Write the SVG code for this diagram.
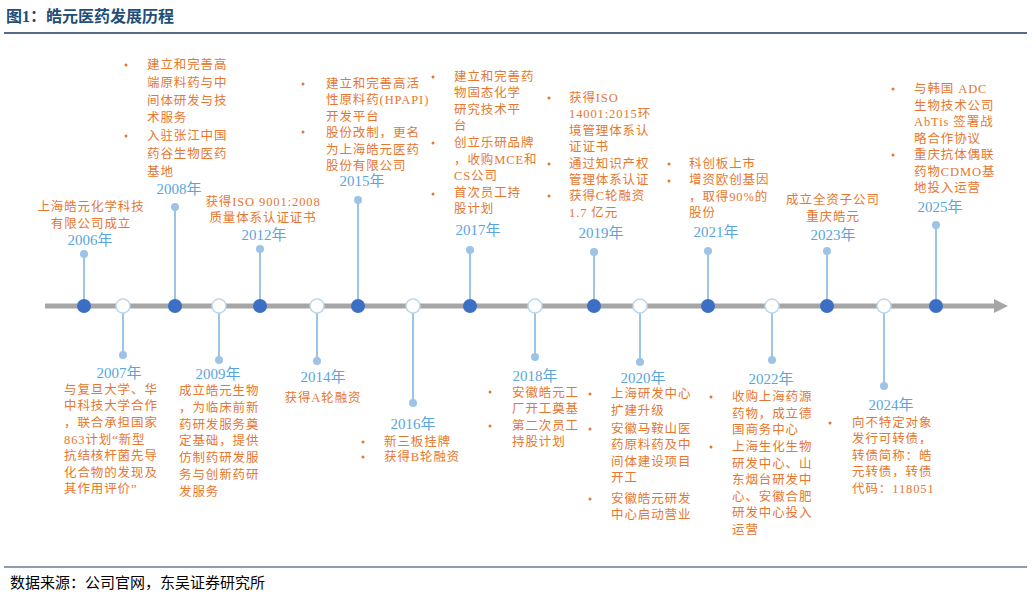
<svg xmlns="http://www.w3.org/2000/svg" width="1032" height="599" viewBox="0 0 1032 599">
<style>
.t{font-family:"Liberation Serif","Noto Sans CJK SC",serif;font-size:12.5px;fill:#E7772F;letter-spacing:0.9px}
.c{text-anchor:middle}
.y{font-family:"Liberation Serif","Noto Sans CJK SC",serif;font-size:15px;fill:#5AA5DD;text-anchor:middle}
.stem{stroke:#9DC3E6;stroke-width:2}
.sd{fill:#9DC3E6}
.f{fill:#3A6FC4}
.h{fill:#fff;stroke:#BDD7EE;stroke-width:1.5}
.b{fill:#E7772F}
</style>
<rect width="1032" height="599" fill="#fff"/>
<text x="6" y="22" font-family="'Liberation Serif','Noto Sans CJK SC',serif" font-size="16" font-weight="bold" fill="#1F4E79">图1：皓元医药发展历程</text>
<line x1="4" y1="33" x2="1027" y2="33" stroke="#1F3864" stroke-width="1.5"/>
<line x1="4" y1="567" x2="1027" y2="567" stroke="#1F3864" stroke-width="1"/>
<text x="10" y="588" font-family="'Liberation Serif','Noto Sans CJK SC',serif" font-size="15" fill="#000">数据来源：公司官网，东吴证券研究所</text>
<g id="connectors">
<line x1="45" y1="306" x2="996" y2="306" stroke="#A6A6A6" stroke-width="5"/>
<polygon points="994,299 1008,306 994,313" fill="#A6A6A6"/>
<line class="stem" x1="84" y1="254" x2="84" y2="306"/>
<line class="stem" x1="175" y1="207" x2="175" y2="306"/>
<line class="stem" x1="260" y1="249" x2="260" y2="306"/>
<line class="stem" x1="358" y1="200" x2="358" y2="306"/>
<line class="stem" x1="470" y1="250" x2="470" y2="306"/>
<line class="stem" x1="594" y1="252" x2="594" y2="306"/>
<line class="stem" x1="708" y1="251" x2="708" y2="306"/>
<line class="stem" x1="827" y1="251" x2="827" y2="306"/>
<line class="stem" x1="936" y1="225" x2="936" y2="306"/>
<line class="stem" x1="123" y1="306" x2="123" y2="355"/>
<line class="stem" x1="219" y1="306" x2="219" y2="360"/>
<line class="stem" x1="317" y1="306" x2="317" y2="361"/>
<line class="stem" x1="413" y1="306" x2="413" y2="403"/>
<line class="stem" x1="535" y1="306" x2="535" y2="357"/>
<line class="stem" x1="640" y1="306" x2="640" y2="362"/>
<line class="stem" x1="772" y1="306" x2="772" y2="360"/>
<line class="stem" x1="884" y1="306" x2="884" y2="386"/>
</g>
<g id="n2006"><circle class="sd" cx="84" cy="254" r="4"/><circle class="f" cx="84" cy="306" r="7"/>
<text class="t c" x="91" y="211">上海皓元化学科技</text><text class="t c" x="91" y="228">有限公司成立</text><text class="y" x="90" y="245">2006年</text></g>
<g id="n2007"><circle class="h" cx="123" cy="306" r="7"/><circle class="sd" cx="123" cy="355" r="4"/>
<text class="y" x="119" y="378">2007年</text>
<text class="t" x="64" y="394">与复旦大学、华</text><text class="t" x="64" y="410">中科技大学合作</text><text class="t" x="64" y="427">，联合承担国家</text><text class="t" x="64" y="444">863计划“新型</text><text class="t" x="64" y="460">抗结核杆菌先导</text><text class="t" x="64" y="477">化合物的发现及</text><text class="t" x="64" y="493">其作用评价”</text></g>
<g id="n2008"><circle class="sd" cx="175" cy="207" r="4"/><circle class="f" cx="175" cy="306" r="7"/>
<circle class="b" cx="126" cy="65" r="1.5"/><circle class="b" cx="126" cy="136" r="1.5"/>
<text class="t" x="147" y="69">建立和完善高</text><text class="t" x="147" y="87">端原料药与中</text><text class="t" x="147" y="105">间体研发与技</text><text class="t" x="147" y="122">术服务</text><text class="t" x="147" y="140">入驻张江中国</text><text class="t" x="147" y="158">药谷生物医药</text><text class="t" x="147" y="176">基地</text>
<text class="y" x="179" y="194">2008年</text></g>
<g id="n2009"><circle class="h" cx="219" cy="306" r="7"/><circle class="sd" cx="219" cy="360" r="4"/>
<text class="y" x="218" y="379">2009年</text>
<text class="t" x="179" y="395">成立皓元生物</text><text class="t" x="179" y="412">，为临床前新</text><text class="t" x="179" y="429">药研发服务奠</text><text class="t" x="179" y="445">定基础，提供</text><text class="t" x="179" y="462">仿制药研发服</text><text class="t" x="179" y="479">务与创新药研</text><text class="t" x="179" y="496">发服务</text></g>
<g id="n2012"><circle class="sd" cx="260" cy="249" r="4"/><circle class="f" cx="260" cy="306" r="7"/>
<text class="t c" x="263" y="206">获得ISO 9001:2008</text><text class="t c" x="263" y="222">质量体系认证证书</text><text class="y" x="264" y="240">2012年</text></g>
<g id="n2014"><circle class="h" cx="317" cy="306" r="7"/><circle class="sd" cx="317" cy="361" r="4"/>
<text class="y" x="323" y="382">2014年</text><text class="t c" x="323" y="402">获得A轮融资</text></g>
<g id="n2015"><circle class="sd" cx="358" cy="200" r="4"/><circle class="f" cx="358" cy="306" r="7"/>
<circle class="b" cx="303" cy="84" r="1.5"/><circle class="b" cx="303" cy="132" r="1.5"/>
<text class="t" x="326" y="88">建立和完善高活</text><text class="t" x="326" y="104">性原料药(HPAPI)</text><text class="t" x="326" y="121">开发平台</text><text class="t" x="326" y="137">股份改制，更名</text><text class="t" x="326" y="154">为上海皓元医药</text><text class="t" x="326" y="170">股份有限公司</text>
<text class="y" x="362" y="186">2015年</text></g>
<g id="n2016"><circle class="h" cx="413" cy="306" r="7"/><circle class="sd" cx="413" cy="403" r="4"/>
<text class="y" x="413" y="429">2016年</text>
<circle class="b" cx="363" cy="442" r="1.5"/><circle class="b" cx="363" cy="457" r="1.5"/>
<text class="t" x="384" y="446">新三板挂牌</text><text class="t" x="384" y="461">获得B轮融资</text></g>
<g id="n2017"><circle class="sd" cx="470" cy="250" r="4"/><circle class="f" cx="470" cy="306" r="7"/>
<circle class="b" cx="433" cy="77" r="1.5"/><circle class="b" cx="433" cy="143" r="1.5"/><circle class="b" cx="433" cy="194" r="1.5"/>
<text class="t" x="454" y="81">建立和完善药</text><text class="t" x="454" y="97">物固态化学</text><text class="t" x="454" y="114">研究技术平</text><text class="t" x="454" y="130">台</text><text class="t" x="454" y="147">创立乐研品牌</text><text class="t" x="454" y="164">，收购MCE和</text><text class="t" x="454" y="180">CS公司</text><text class="t" x="454" y="197">首次员工持</text><text class="t" x="454" y="213">股计划</text>
<text class="y" x="478" y="235">2017年</text></g>
<g id="n2018"><circle class="h" cx="535" cy="306" r="7"/><circle class="sd" cx="535" cy="357" r="4"/>
<text class="y" x="535" y="381">2018年</text>
<circle class="b" cx="490" cy="392" r="1.5"/><circle class="b" cx="490" cy="426" r="1.5"/>
<text class="t" x="512" y="397">安徽皓元工</text><text class="t" x="512" y="413">厂开工奠基</text><text class="t" x="512" y="430">第二次员工</text><text class="t" x="512" y="446">持股计划</text></g>
<g id="n2019"><circle class="sd" cx="594" cy="252" r="4"/><circle class="f" cx="594" cy="306" r="7"/>
<circle class="b" cx="549" cy="98" r="1.5"/><circle class="b" cx="549" cy="164" r="1.5"/><circle class="b" cx="549" cy="196" r="1.5"/>
<text class="t" x="569" y="102">获得ISO</text><text class="t" x="569" y="118">14001:2015环</text><text class="t" x="569" y="135">境管理体系认</text><text class="t" x="569" y="151">证证书</text><text class="t" x="569" y="168">通过知识产权</text><text class="t" x="569" y="184">管理体系认证</text><text class="t" x="569" y="200">获得C轮融资</text><text class="t" x="569" y="217">1.7 亿元</text>
<text class="y" x="601" y="238">2019年</text></g>
<g id="n2020"><circle class="h" cx="640" cy="306" r="7"/><circle class="sd" cx="640" cy="362" r="4"/>
<text class="y" x="643" y="383">2020年</text>
<circle class="b" cx="590" cy="394" r="1.5"/><circle class="b" cx="590" cy="429" r="1.5"/><circle class="b" cx="590" cy="499" r="1.5"/>
<text class="t" x="611" y="398">上海研发中心</text><text class="t" x="611" y="415">扩建升级</text><text class="t" x="611" y="433">安徽马鞍山医</text><text class="t" x="611" y="449">药原料药及中</text><text class="t" x="611" y="466">间体建设项目</text><text class="t" x="611" y="482">开工</text><text class="t" x="611" y="503">安徽皓元研发</text><text class="t" x="611" y="519">中心启动营业</text></g>
<g id="n2021"><circle class="sd" cx="708" cy="251" r="4"/><circle class="f" cx="708" cy="306" r="7"/>
<circle class="b" cx="669" cy="164" r="1.5"/><circle class="b" cx="669" cy="181" r="1.5"/>
<text class="t" x="689" y="168">科创板上市</text><text class="t" x="689" y="184">增资欧创基因</text><text class="t" x="689" y="201">，取得90%的</text><text class="t" x="689" y="217">股份</text>
<text class="y" x="716" y="237">2021年</text></g>
<g id="n2022"><circle class="h" cx="772" cy="306" r="7"/><circle class="sd" cx="772" cy="360" r="4"/>
<text class="y" x="771" y="384">2022年</text>
<circle class="b" cx="711" cy="397" r="1.5"/><circle class="b" cx="711" cy="447" r="1.5"/>
<text class="t" x="732" y="401">收购上海药源</text><text class="t" x="732" y="418">药物，成立德</text><text class="t" x="732" y="434">国商务中心</text><text class="t" x="732" y="451">上海生化生物</text><text class="t" x="732" y="468">研发中心、山</text><text class="t" x="732" y="484">东烟台研发中</text><text class="t" x="732" y="501">心、安徽合肥</text><text class="t" x="732" y="517">研发中心投入</text><text class="t" x="732" y="534">运营</text></g>
<g id="n2023"><circle class="sd" cx="827" cy="251" r="4"/><circle class="f" cx="827" cy="306" r="7"/>
<text class="t c" x="833" y="204">成立全资子公司</text><text class="t c" x="833" y="221">重庆皓元</text><text class="y" x="833" y="240">2023年</text></g>
<g id="n2024"><circle class="h" cx="884" cy="306" r="7"/><circle class="sd" cx="884" cy="386" r="4"/>
<text class="y" x="891" y="410">2024年</text>
<circle class="b" cx="830" cy="423" r="1.5"/>
<text class="t" x="852" y="427">向不特定对象</text><text class="t" x="852" y="443">发行可转债，</text><text class="t" x="852" y="460">转债简称：皓</text><text class="t" x="852" y="476">元转债，转债</text><text class="t" x="852" y="493">代码：118051</text></g>
<g id="n2025"><circle class="sd" cx="936" cy="225" r="4"/><circle class="f" cx="936" cy="306" r="7"/>
<circle class="b" cx="893" cy="89" r="1.5"/><circle class="b" cx="893" cy="155" r="1.5"/>
<text class="t" x="914" y="93">与韩国 ADC</text><text class="t" x="914" y="110">生物技术公司</text><text class="t" x="914" y="126">AbTis 签署战</text><text class="t" x="914" y="143">略合作协议</text><text class="t" x="914" y="159">重庆抗体偶联</text><text class="t" x="914" y="176">药物CDMO基</text><text class="t" x="914" y="192">地投入运营</text>
<text class="y" x="940" y="212">2025年</text></g>
</svg>
